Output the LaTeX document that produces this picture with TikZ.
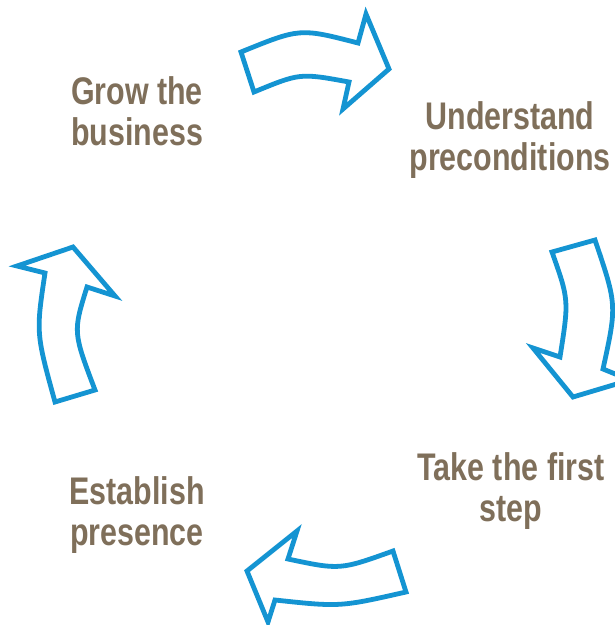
\documentclass[tikz,border=0pt]{standalone}
\usepackage{fontspec}
\setmainfont{Liberation Sans}[FakeStretch=0.79]
\definecolor{arrowblue}{RGB}{20,148,210}
\definecolor{labelbrown}{RGB}{127,111,90}
\begin{document}
\begin{tikzpicture}[x=1pt,y=-1pt,
  cyclearrow/.style={draw=arrowblue,line width=4.8pt,line join=miter,fill=white},
  steplabel/.style={text=labelbrown,font=\fontsize{38.5}{41}\selectfont\bfseries,align=center,inner sep=0pt,anchor=north}]
\useasboundingbox (0,0) rectangle (615,625);
% top arrow (right)
\draw[cyclearrow] (241,52) .. controls (300,28) .. (358,43) -- (366,14) -- (389,69) -- (343,109) -- (349,82) .. controls (300,73) .. (254,92) -- cycle;
% right arrow (down)
\draw[cyclearrow] (552,252) -- (595,240) .. controls (617,305) .. (603,369) -- (630,380) -- (573,397) -- (533,348) -- (560,357) .. controls (569,300) .. cycle;
% bottom arrow (left)
\draw[cyclearrow] (393,551) .. controls (340,570) .. (288,559) -- (297,531) -- (247,571) -- (268,622) -- (275,600) .. controls (340,607) .. (406,592) -- cycle;
% left arrow (up)
\draw[cyclearrow] (55,402) .. controls (36,333) .. (45,273) -- (17,266) -- (73,247) -- (115,296) -- (87,287) .. controls (73,332) .. (95,390) -- cycle;
\node[steplabel] (grow) at (137,76) {Grow the\\business};
\node[steplabel] (understand) at (510,101) {Understand\\preconditions};
\node[steplabel] (take) at (511,452.5) {Take the first\\step};
\node[steplabel] (establish) at (137,476) {Establish\\presence};
\end{tikzpicture}
\end{document}
